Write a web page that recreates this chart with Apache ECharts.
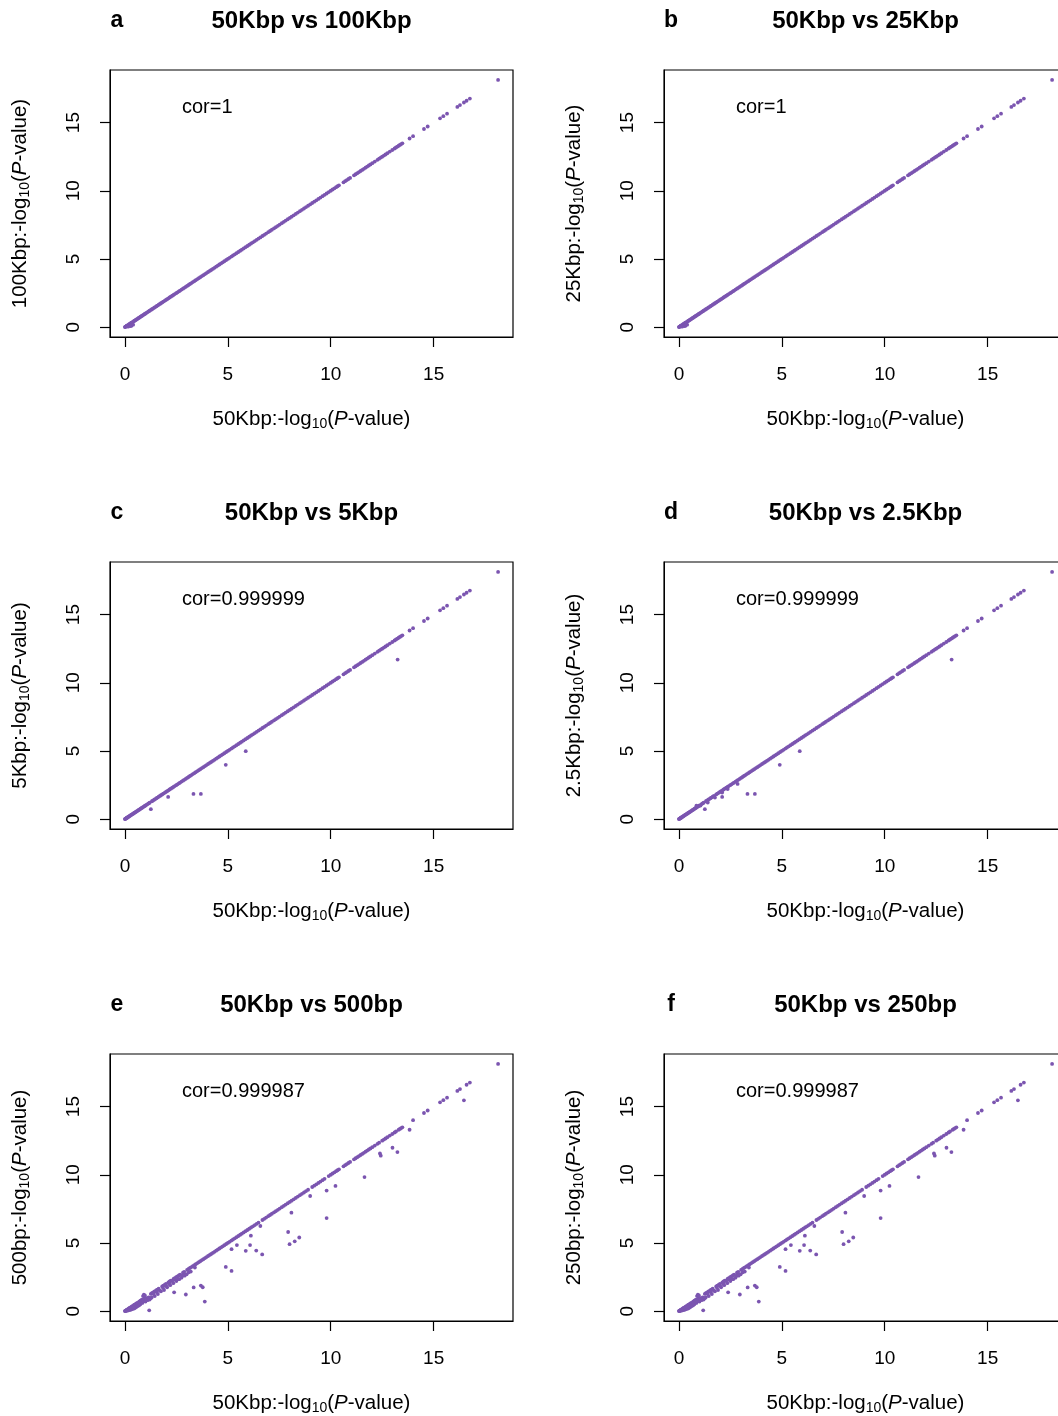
<!DOCTYPE html>
<html>
<head>
<meta charset="utf-8">
<title>P-value concordance across bin sizes</title>
<script src="https://cdn.jsdelivr.net/npm/echarts@6/dist/echarts.min.js"></script>
<style>
  html, body { margin: 0; padding: 0; background: #fff; }
  #chart { width: 1058px; height: 1416px; }
</style>
</head>
<body>
<div id="chart"></div>
<script>
// Axis ticks shared by every panel (both axes use -log10 P scale)
const tickValues = [0, 5, 10, 15];
const axisRange = [-0.725, 18.855];

// 50Kbp -log10(P) values of loci whose P-value is unchanged at the other bin size
const diag = [
  0.00, 0.02, 0.04, 0.06, 0.08, 0.10, 0.12, 0.15, 0.18, 0.21, 0.24, 0.27, 0.30, 0.33, 0.36, 0.40,
  0.43, 0.47, 0.50, 0.54, 0.57, 0.61, 0.65, 0.69, 0.72, 0.76, 0.80, 0.84, 0.88, 0.92, 0.96,
  1.00, 1.05, 1.10, 1.15, 1.20, 1.26, 1.31, 1.36, 1.42, 1.47, 1.53, 1.58, 1.64, 1.70, 1.75, 1.81,
  1.87, 1.93, 1.99, 2.05, 2.11, 2.17, 2.23, 2.30, 2.36, 2.42, 2.49, 2.55, 2.62, 2.68, 2.75, 2.82,
  2.88, 2.95, 3.02, 3.09, 3.16, 3.23, 3.30, 3.37, 3.44, 3.52, 3.59, 3.66, 3.74, 3.81, 3.89, 3.96,
  4.04, 4.12, 4.19, 4.27, 4.35, 4.43, 4.51, 4.59, 4.67, 4.75, 4.83, 4.92, 5.00, 5.08, 5.17, 5.25,
  5.34, 5.42, 5.51, 5.60, 5.68, 5.77, 5.86, 5.95, 6.04, 6.13, 6.22, 6.31, 6.40, 6.49, 6.58, 6.68,
  6.77, 6.86, 6.96, 7.05, 7.14, 7.24, 7.33, 7.43, 7.52, 7.62, 7.72, 7.81, 7.91, 8.01, 8.10, 8.20,
  8.30, 8.40, 8.50, 8.60, 8.70, 8.80, 8.90, 9.00, 9.10, 9.20, 9.30, 9.40, 9.50, 9.60, 9.70, 9.80,
  9.90, 10.00, 10.09, 10.18, 10.26, 10.33, 10.40, 10.62, 10.70, 10.78, 10.86, 10.94, 11.13, 11.21,
  11.29, 11.37, 11.45, 11.53, 11.61, 11.69, 11.77, 11.85, 11.93, 12.02, 12.14, 12.27, 12.35, 12.43,
  12.50, 12.58, 12.66, 12.75, 12.87, 12.99, 13.10, 13.17, 13.24, 13.30, 13.36, 13.42, 13.48,
  13.83, 14.00, 14.53, 14.71, 15.31, 15.47, 15.65, 16.15, 16.28, 16.47, 16.60, 16.76, 18.13
];

// Small departures near zero at 100Kbp / 25Kbp
const offAB = [[0.15, 0.03], [0.25, 0.07], [0.32, 0.10], [0.40, 0.18]];

// Loci that change at 5Kbp / 2.5Kbp
const offC = [
  [1.26, 0.73], [2.10, 1.63], [3.33, 1.85], [3.69, 1.85], [4.90, 3.98], [5.87, 4.98], [13.25, 11.70]
];
const offD = [
  [0.85, 0.98], [1.05, 1.00], [1.40, 1.22], [1.75, 1.58], [2.10, 1.95], [2.37, 2.20], [2.85, 2.58]
];

// Loci that change at 500bp / 250bp
const offE = [
  [1.18, 0.06], [2.39, 1.38], [2.96, 1.22], [3.34, 1.74], [3.69, 1.87], [3.78, 1.75], [3.88, 0.70],
  [4.90, 3.24], [5.18, 2.95], [5.18, 4.54], [5.44, 4.84], [5.87, 4.42], [6.08, 4.84], [6.38, 4.44],
  [6.67, 4.16], [6.12, 5.53], [6.58, 6.24], [7.93, 5.80], [8.00, 4.91], [8.25, 5.12], [8.47, 5.40],
  [8.09, 7.22], [9.00, 8.44], [9.80, 8.84], [10.23, 9.18], [9.80, 6.82], [11.64, 9.83], [12.39, 11.56],
  [12.43, 11.40], [13.00, 11.98], [13.24, 11.66], [13.83, 13.30], [16.47, 15.46],
  [0.05, 0.02], [0.10, 0.03], [0.15, 0.05], [0.20, 0.08], [0.25, 0.10], [0.30, 0.12], [0.35, 0.15],
  [0.40, 0.18], [0.45, 0.20], [0.50, 0.25], [0.55, 0.30], [0.60, 0.35], [0.65, 0.40], [0.70, 0.45],
  [0.20, 0.15], [0.30, 0.25], [0.40, 0.30], [0.88, 1.10], [0.92, 1.20], [0.97, 1.15],
  [0.75, 0.50], [0.85, 0.60], [0.95, 0.75], [1.00, 0.70], [1.05, 0.95], [1.10, 0.80], [1.15, 1.00],
  [1.20, 0.85], [1.25, 0.95], [1.30, 1.00], [1.40, 1.25], [1.45, 1.10], [1.55, 1.40], [1.60, 1.25],
  [1.70, 1.50], [1.75, 1.45], [1.85, 1.70], [1.90, 1.55], [2.00, 1.85], [2.05, 1.75], [2.15, 2.00],
  [2.20, 1.90], [2.30, 2.20], [2.35, 2.05], [2.45, 2.30], [2.50, 2.20], [2.60, 2.35], [2.65, 2.35],
  [2.75, 2.45], [2.80, 2.60], [2.90, 2.60], [2.95, 2.70], [3.00, 2.70], [3.10, 2.85], [3.20, 2.90],
  [3.40, 3.20]
];

const panels = [
  { letter: 'a', title: '50Kbp vs 100Kbp', other: '100Kbp', cor: 'cor=1', off: offAB },
  { letter: 'b', title: '50Kbp vs 25Kbp', other: '25Kbp', cor: 'cor=1', off: offAB },
  { letter: 'c', title: '50Kbp vs 5Kbp', other: '5Kbp', cor: 'cor=0.999999', off: offC },
  { letter: 'd', title: '50Kbp vs 2.5Kbp', other: '2.5Kbp', cor: 'cor=0.999999', off: offC.concat(offD) },
  { letter: 'e', title: '50Kbp vs 500bp', other: '500bp', cor: 'cor=0.999987', off: offE },
  { letter: 'f', title: '50Kbp vs 250bp', other: '250bp', cor: 'cor=0.999987', off: offE }
];

const FONT = "'Liberation Sans', Arial, Helvetica, sans-serif";
const DOT = '#7b55b0';
const colLeft = [110, 664];
const rowTop = [70, 562, 1054];
const boxW = 403, boxH = 267;

const nameRich = {
  t: { fontSize: 20.5, fontFamily: FONT, color: '#000', lineHeight: 24 },
  i: { fontSize: 20.5, fontFamily: FONT, color: '#000', lineHeight: 24, fontStyle: 'italic' },
  s: { fontSize: 14, fontFamily: FONT, color: '#000', lineHeight: 14, verticalAlign: 'bottom' }
};
const axisTitle = (bin) => `{t|${bin}:-log}{s|10}{t|(}{i|P}{t|-value)}`;

const grid = [], xAxis = [], yAxis = [], series = [], graphic = [];

panels.forEach((p, k) => {
  const left = colLeft[k % 2];
  const top = rowTop[Math.floor(k / 2)];

  grid.push({
    left: left, top: top, width: boxW, height: boxH,
    show: true, borderColor: '#000', borderWidth: 1.2, backgroundColor: 'transparent',
    outerBoundsMode: 'none'
  });

  const common = {
    gridIndex: k, type: 'value', min: axisRange[0], max: axisRange[1],
    splitLine: { show: false },
    axisLine: { show: true, onZero: false, lineStyle: { color: '#000', width: 1 } },
    axisTick: { show: true, inside: false, length: 10, customValues: tickValues,
                lineStyle: { color: '#000', width: 1.2 } },
    nameLocation: 'middle',
    nameTextStyle: { rich: nameRich }
  };

  xAxis.push(Object.assign({}, common, {
    position: 'bottom',
    axisLabel: { customValues: tickValues, margin: 28, fontSize: 19, color: '#000', fontFamily: FONT },
    name: axisTitle('50Kbp'),
    nameGap: 70
  }));
  yAxis.push(Object.assign({}, common, {
    position: 'left',
    axisLabel: { customValues: tickValues, margin: 27, rotate: 90, fontSize: 19, color: '#000', fontFamily: FONT },
    name: axisTitle(p.other),
    nameRotate: 90,
    nameGap: 78
  }));

  // identity points, minus loci that moved off the line in this comparison
  const moved = new Set(p.off.map(d => d[0]));
  const pts = diag.filter(v => !moved.has(v)).map(v => [v, v]).concat(p.off);

  series.push({
    type: 'scatter', xAxisIndex: k, yAxisIndex: k, data: pts,
    symbol: 'circle', symbolSize: 3.8, silent: true, animation: false,
    itemStyle: { color: DOT, opacity: 1 }
  });

  graphic.push(
    { type: 'text', x: left + 7, y: top - 49,
      style: { text: p.letter, font: `bold 23px ${FONT}`, fill: '#000', textAlign: 'center', textVerticalAlign: 'middle' } },
    { type: 'text', x: left + boxW / 2, y: top - 49,
      style: { text: p.title, font: `bold 24px ${FONT}`, fill: '#000', textAlign: 'center', textVerticalAlign: 'middle' } },
    { type: 'text', x: left + 72, y: top + 37,
      style: { text: p.cor, font: `20px ${FONT}`, fill: '#000', textAlign: 'left', textVerticalAlign: 'middle' } }
  );
});

const chart = echarts.init(document.getElementById('chart'), null, { renderer: 'canvas' });
chart.setOption({
  backgroundColor: '#fff',
  animation: false,
  grid, xAxis, yAxis, series, graphic
});
</script>
</body>
</html>
